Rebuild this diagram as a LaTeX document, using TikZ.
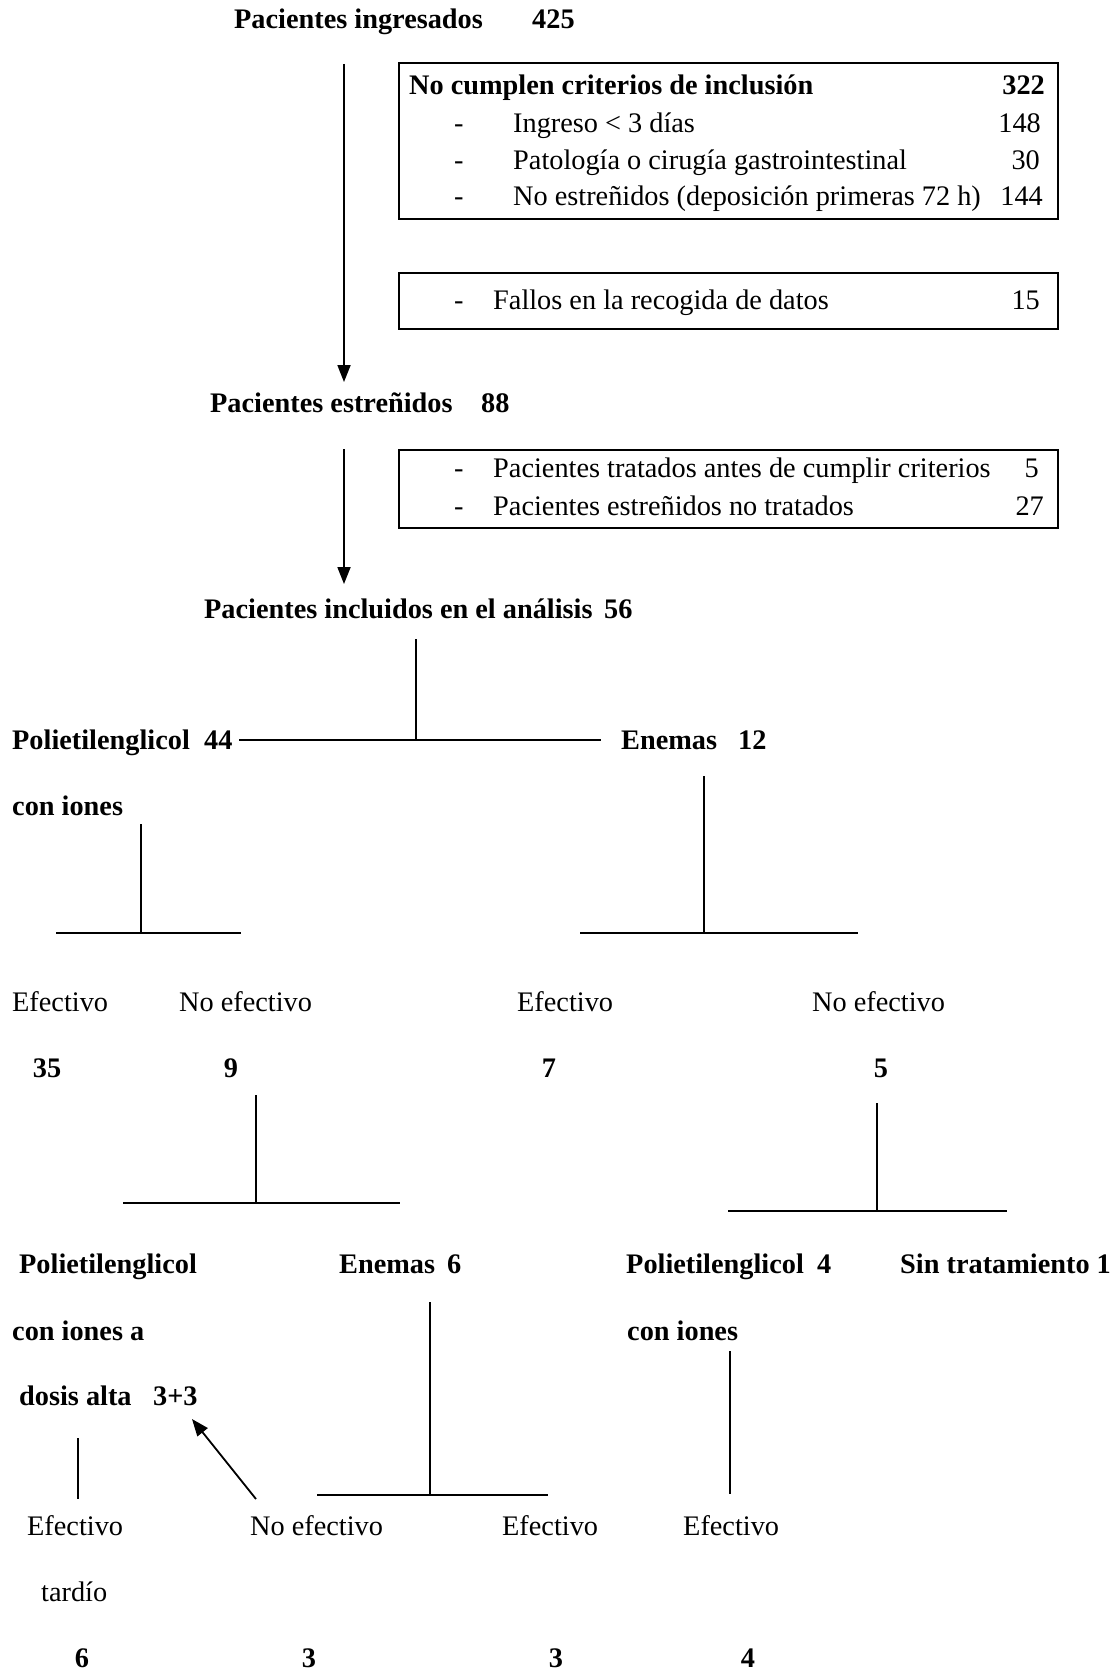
\documentclass[tikz,border=0pt]{standalone}
\usepackage{fontspec}
\setmainfont{Liberation Serif}
\usetikzlibrary{arrows.meta}
\begin{document}
\begin{tikzpicture}[x=1pt,y=-1pt,
  txt/.style={inner sep=0pt,anchor=mid west,yshift=-7pt,font=\fontsize{28.3}{34}\selectfont},
  btxt/.style={txt,font=\fontsize{28.3}{34}\selectfont\bfseries},
  rtxt/.style={txt,anchor=mid east},
  brtxt/.style={btxt,anchor=mid east},
  ctxt/.style={btxt,anchor=mid},
  boxline/.style={line width=2.2pt},
  vline/.style={line width=1.5pt},
  hline/.style={line width=2.4pt},
  arr/.style={line width=1.8pt,-{Triangle[length=17pt,width=13pt]}}]
\useasboundingbox (0,0) rectangle (1117,1675);

% top
\node[btxt] (t1) at (234,19) {Pacientes ingresados};
\node[btxt] (t1n) at (532,19) {425};
\coordinate (a1s) at (344,64);
\coordinate (a1e) at (344,382);
\draw[arr] (a1s) -- (a1e);

% box 1
\draw[boxline] (399,63) rectangle (1058,219);
\node[btxt] (b1h) at (409,85) {No cumplen criterios de inclusión};
\node[brtxt] (b1hn) at (1045,85) {322};
\node[txt] (b1d1) at (454,123) {-};
\node[txt] (b1l1) at (513,123) {Ingreso < 3 días};
\node[rtxt] (b1n1) at (1041,123) {148};
\node[txt] (b1d2) at (454,160) {-};
\node[txt] (b1l2) at (513,160) {Patología o cirugía gastrointestinal};
\node[rtxt] (b1n2) at (1040,160) {30};
\node[txt] (b1d3) at (454,196) {-};
\node[txt] (b1l3) at (513,196) {No estreñidos (deposición primeras 72 h)};
\node[rtxt] (b1n3) at (1043,196) {144};

% box 2
\draw[boxline] (399,273) rectangle (1058,329);
\node[txt] (b2d) at (454,300) {-};
\node[txt] (b2l) at (493,300) {Fallos en la recogida de datos};
\node[rtxt] (b2n) at (1040,300) {15};

% second level
\node[btxt] (t2) at (210,403) {Pacientes estreñidos};
\node[btxt] (t2n) at (481,403) {88};
\coordinate (a2s) at (344,449);
\coordinate (a2e) at (344,584);
\draw[arr] (a2s) -- (a2e);

% box 3
\draw[boxline] (399,450) rectangle (1058,528);
\node[txt] (b3d1) at (454,468) {-};
\node[txt] (b3l1) at (493,468) {Pacientes tratados antes de cumplir criterios};
\node[rtxt] (b3n1) at (1039,468) {5};
\node[txt] (b3d2) at (454,506) {-};
\node[txt] (b3l2) at (493,506) {Pacientes estreñidos no tratados};
\node[rtxt] (b3n2) at (1044,506) {27};

% third level
\node[btxt] (t3) at (204,609) {Pacientes incluidos en el análisis};
\node[btxt] (t3n) at (604,609) {56};
\coordinate (v1t) at (416,639);
\coordinate (v1b) at (416,740);
\coordinate (h1l) at (239,740);
\coordinate (h1r) at (601,740);
\draw[vline] (v1t) -- (v1b);
\draw[hline] (h1l) -- (h1r);

\node[btxt] (p1) at (12,740) {Polietilenglicol};
\node[btxt] (p1n) at (204,740) {44};
\node[btxt] (p1b) at (12,806) {con iones};
\node[btxt] (e1) at (621,740) {Enemas};
\node[btxt] (e1n) at (738,740) {12};

% left tree (PEG)
\coordinate (v2t) at (141,824);
\coordinate (v2b) at (141,933);
\coordinate (h2l) at (56,933);
\coordinate (h2m) at (192,933);
\coordinate (h2r) at (241,933);
\draw[vline] (v2t) -- (v2b);
\draw[hline] (h2l) -- (h2m);
\draw[vline] (h2m) -- (h2r);

% right tree (Enemas)
\coordinate (v3t) at (704,776);
\coordinate (v3b) at (704,933);
\coordinate (h3l) at (580,933);
\coordinate (h3r) at (858,933);
\draw[vline] (v3t) -- (v3b);
\draw[hline] (h3l) -- (h3r);

\node[txt] (o1) at (12,1002) {Efectivo};
\node[txt] (o2) at (179,1002) {No efectivo};
\node[txt] (o3) at (517,1002) {Efectivo};
\node[txt] (o4) at (812,1002) {No efectivo};
\node[ctxt] (o1n) at (47,1068) {35};
\node[ctxt] (o2n) at (231,1068) {9};
\node[ctxt] (o3n) at (549,1068) {7};
\node[ctxt] (o4n) at (881,1068) {5};

% tree under 9
\coordinate (v4t) at (256,1095);
\coordinate (v4b) at (256,1203);
\coordinate (h4l) at (123,1203);
\coordinate (h4r) at (400,1203);
\draw[vline] (v4t) -- (v4b);
\draw[hline] (h4l) -- (h4r);

% tree under 5
\coordinate (v5t) at (877,1103);
\coordinate (v5b) at (877,1211);
\coordinate (h5l) at (728,1211);
\coordinate (h5r) at (1007,1211);
\draw[vline] (v5t) -- (v5b);
\draw[hline] (h5l) -- (h5r);

% fourth level
\node[btxt] (q1) at (19,1264) {Polietilenglicol};
\node[btxt] (q1b) at (12,1331) {con iones a};
\node[btxt] (q1c) at (19,1396) {dosis alta};
\node[btxt] (q1n) at (153,1396) {3+3};
\node[btxt] (q2) at (339,1264) {Enemas};
\node[btxt] (q2n) at (447,1264) {6};
\node[btxt] (q3) at (626,1264) {Polietilenglicol};
\node[btxt] (q3n) at (817,1264) {4};
\node[btxt] (q3b) at (627,1331) {con iones};
\node[btxt] (q4) at (900,1264) {Sin tratamiento 1};

% lines to outcomes
\coordinate (v6t) at (78,1438);
\coordinate (v6b) at (78,1499);
\draw[vline] (v6t) -- (v6b);
\coordinate (v7t) at (430,1302);
\coordinate (v7b) at (430,1495);
\coordinate (h7l) at (317,1495);
\coordinate (h7r) at (548,1495);
\draw[vline] (v7t) -- (v7b);
\draw[hline] (h7l) -- (h7r);
\coordinate (v8t) at (730,1351);
\coordinate (v8b) at (730,1494);
\draw[vline] (v8t) -- (v8b);
\coordinate (a3s) at (256,1499);
\coordinate (a3e) at (192,1419);
\draw[arr] (a3s) -- (a3e);

\node[txt] (r1) at (27,1526) {Efectivo};
\node[txt] (r1b) at (41,1592) {tardío};
\node[txt] (r2) at (250,1526) {No efectivo};
\node[txt] (r3) at (502,1526) {Efectivo};
\node[txt] (r4) at (683,1526) {Efectivo};
\node[ctxt] (r1n) at (82,1658) {6};
\node[ctxt] (r2n) at (309,1658) {3};
\node[ctxt] (r3n) at (556,1658) {3};
\node[ctxt] (r4n) at (748,1658) {4};
\end{tikzpicture}
\end{document}
